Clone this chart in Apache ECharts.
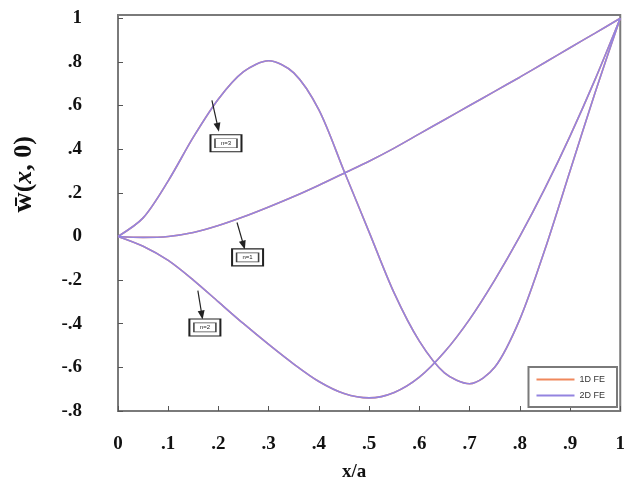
<!DOCTYPE html>
<html>
<head>
<meta charset="utf-8">
<script src="https://cdn.jsdelivr.net/npm/echarts@6/dist/echarts.min.js"></script>
<style>
  html, body { margin: 0; padding: 0; background: #fff; }
  #chart { width: 628px; height: 492px; }
</style>
</head>
<body>
<div id="chart"></div>
<script>
// x/a positions
const xs = [0, 0.05, 0.1, 0.15, 0.2, 0.25, 0.3, 0.35, 0.4, 0.45, 0.5,
  0.55, 0.6, 0.65, 0.7, 0.75, 0.8, 0.85, 0.9, 0.95, 1.0]

// mode shapes w(x,0)
const mode1 = [0, -0.004, 0.0, 0.018, 0.05, 0.09, 0.135, 0.183, 0.235, 0.29, 0.345,
  0.405, 0.47, 0.535, 0.6, 0.665, 0.73, 0.797, 0.865, 0.932, 1.0]
const mode2 = [0, -0.045, -0.11, -0.2, -0.3, -0.4, -0.495, -0.585, -0.665, -0.72, -0.74,
  -0.715, -0.645, -0.53, -0.38, -0.2, 0.0, 0.22, 0.46, 0.72, 1.0]
const mode3 = [0, 0.085, 0.255, 0.455, 0.63, 0.755, 0.805, 0.75, 0.58, 0.3, 0.02,
  -0.26, -0.48, -0.625, -0.675, -0.6, -0.38, -0.06, 0.3, 0.66, 1.0]

// annotations (data coordinates)
const annoLabels = ['n=3', 'n=1', 'n=2']
const annoFrom = [[0.187, 0.624], [0.237, 0.064], [0.159, -0.248]]
const annoTo = [[0.199, 0.5], [0.25, -0.04], [0.167, -0.36]]
const annoBox = [[0.215, 0.427], [0.258, -0.096], [0.173, -0.417]]

const orange = '#f0885c'
const purple = '#9384e0'
const serif = 'Liberation Serif'

const pairs = (ys) => xs.map((x, i) => [x, ys[i]])
const fmt = (v) => {
  if (Math.abs(v) < 1e-9) return '0'
  return String(+v.toFixed(2)).replace('0.', '.')
}

const makeSeries = (name, color, ys, extra) => Object.assign({
  name,
  type: 'line',
  smooth: 0.3,
  showSymbol: false,
  symbol: 'none',
  lineStyle: { color, width: 1.6 },
  itemStyle: { color },
  data: pairs(ys),
  silent: true
}, extra || {})

const chart = echarts.init(document.getElementById('chart'))

const option = {
  animation: false,
  backgroundColor: '#fff',
  grid: {
    left: 118, right: 7, top: 15, bottom: 81,
    show: true, borderColor: '#7a7a7a', borderWidth: 2, backgroundColor: 'transparent'
  },
  legend: {
    data: ['1D FE', '2D FE'],
    orient: 'vertical',
    right: 11,
    top: 367,
    padding: [8, 12, 7, 8],
    itemGap: 7,
    itemWidth: 38,
    itemHeight: 2,
    icon: 'rect',
    borderColor: '#7a7a7a',
    borderWidth: 2,
    backgroundColor: '#fff',
    textStyle: { fontSize: 9, color: '#333', fontFamily: 'Liberation Sans' }
  },
  xAxis: {
    type: 'value',
    min: 0,
    max: 1,
    interval: 0.1,
    name: 'x/a',
    nameLocation: 'middle',
    nameGap: 52,
    nameTextStyle: { fontFamily: serif, fontWeight: 'bold', fontSize: 19, color: '#111', padding: [0, 30, 0, 0] },
    axisLine: { show: false, onZero: false },
    axisTick: { inside: true, length: 5, lineStyle: { color: '#555' } },
    splitLine: { show: false },
    axisLabel: {
      margin: 24,
      formatter: fmt,
      fontFamily: serif, fontWeight: 'bold', fontSize: 19, color: '#111'
    }
  },
  yAxis: {
    type: 'value',
    min: -0.8,
    max: 1.015,
    interval: 0.2,
    axisLine: { show: false, onZero: false },
    axisTick: { inside: true, length: 5, lineStyle: { color: '#555' } },
    splitLine: { show: false },
    axisLabel: {
      margin: 36,
      showMaxLabel: false,
      formatter: fmt,
      padding: [0, 0, 8, 0],
      fontFamily: serif, fontWeight: 'bold', fontSize: 19, color: '#111'
    }
  },
  graphic: [{
    type: 'text',
    left: 10,
    top: 136,
    rotation: Math.PI / 2,
    originX: 0,
    originY: 0,
    style: {
      text: '{w|w\u0304}{p|(}{x|x}{p|, 0)}',
      rich: {
        w: { fontFamily: serif, fontWeight: 'bold', fontSize: 28, fill: '#111' },
        p: { fontFamily: serif, fontWeight: 'bold', fontSize: 26, fill: '#111' },
        x: { fontFamily: serif, fontWeight: 'bold', fontStyle: 'italic', fontSize: 26, fill: '#111' }
      }
    }
  }],
  series: [
    makeSeries('1D FE', orange, mode1),
    makeSeries('1D FE', orange, mode2),
    makeSeries('1D FE', orange, mode3),
    makeSeries('2D FE', purple, mode1),
    makeSeries('2D FE', purple, mode2),
    makeSeries('2D FE', purple, mode3, {
      markLine: {
        silent: true,
        symbol: ['none', 'triangle'],
        symbolSize: [7, 9],
        lineStyle: { color: '#222', width: 1.2, type: 'solid' },
        label: { show: false },
        data: annoFrom.map((p, i) => [{ coord: p }, { coord: annoTo[i] }])
      },
      markPoint: {
        silent: true,
        data: annoBox.map((p) => ({
          coord: p,
          symbol: 'rect',
          symbolSize: [31, 17],
          itemStyle: { color: '#fff', borderColor: '#222', borderWidth: 1.5 },
          label: { show: false }
        })).concat(annoBox.map((p, i) => ({
          coord: p,
          symbol: 'rect',
          symbolSize: [22, 9],
          itemStyle: { color: '#fff', borderColor: '#444', borderWidth: 1 },
          label: {
            show: true, position: 'inside', formatter: annoLabels[i],
            fontSize: 6, color: '#222', fontFamily: 'Liberation Sans'
          }
        })))
      }
    })
  ]
}

chart.setOption(option)
</script>
</body>
</html>
